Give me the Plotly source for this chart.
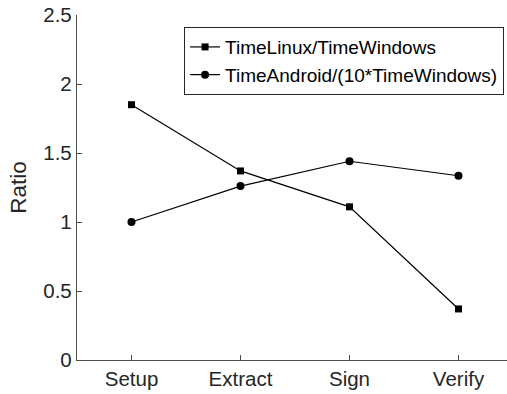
import plotly.graph_objects as go

categories = ["Setup", "Extract", "Sign", "Verify"]
linux_ratio = [1.85, 1.37, 1.11, 0.37]
android_ratio = [1.00, 1.26, 1.44, 1.335]
y_ticks = [0, 0.5, 1, 1.5, 2, 2.5]
y_tick_labels = ["0", "0.5", "1", "1.5", "2", "2.5"]

xpos = list(range(1, len(categories) + 1))

fig = go.Figure()
fig.add_trace(go.Scatter(
    x=xpos, y=linux_ratio, mode="lines+markers",
    name="TimeLinux/TimeWindows",
    line=dict(color="black", width=1.2),
    marker=dict(symbol="square", size=7, color="black"),
))
fig.add_trace(go.Scatter(
    x=xpos, y=android_ratio, mode="lines+markers",
    name="TimeAndroid/(10*TimeWindows)",
    line=dict(color="black", width=1.2),
    marker=dict(symbol="circle", size=8, color="black"),
))

axis_color = "#4d4d4d"
fig.update_layout(
    width=507, height=394,
    margin=dict(l=77, r=0, t=15, b=34, autoexpand=False),
    paper_bgcolor="white", plot_bgcolor="white",
    font=dict(family="Liberation Sans, Arial, sans-serif", color="#262626", size=20.5),
    showlegend=True,
    legend=dict(
        x=0.249, y=0.965, xanchor="left", yanchor="top",
        bordercolor="#262626", borderwidth=1, bgcolor="white",
        font=dict(size=19, color="black"),
        tracegroupgap=0, itemwidth=30,
    ),
    xaxis=dict(
        range=[0.5, 4.445], tickmode="array", tickvals=xpos, ticktext=categories,
        ticks="inside", ticklen=5, tickcolor=axis_color, tickwidth=1,
        showline=True, linecolor=axis_color, linewidth=1.3,
        showgrid=False, zeroline=False, automargin=False,
    ),
    yaxis=dict(
        range=[0, 2.5], tickmode="array", tickvals=y_ticks, ticktext=y_tick_labels,
        ticks="inside", ticklen=5, tickcolor=axis_color, tickwidth=1,
        showline=True, linecolor=axis_color, linewidth=1.3,
        showgrid=False, zeroline=False, automargin=False,
        title=dict(text="Ratio", font=dict(size=22.5), standoff=10),
    ),
)

fig.write_html("out.html")
